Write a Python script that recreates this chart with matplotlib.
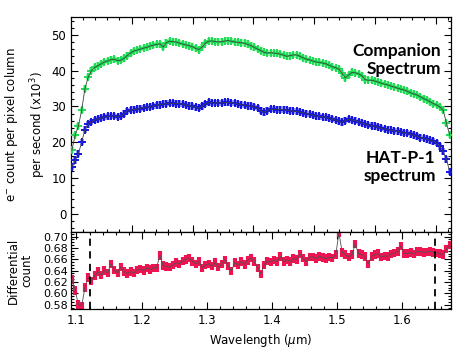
import numpy as np
import matplotlib
matplotlib.use("Agg")
import matplotlib.pyplot as plt
from matplotlib.ticker import MultipleLocator

# wavelength bins (micron), shared by the three series
wavelength = np.round(np.arange(1.093, 1.6731, 0.005), 3)

# companion star spectrum (e- per pixel column per second, x10^3)
companion = [
    17.8, 22.0, 24.5, 29.0, 35.0, 38.2, 40.0, 40.9, 41.4, 41.9,
    42.4, 42.7, 43.1, 43.2, 42.8, 42.9, 43.4, 44.2, 44.9, 45.5,
    45.7, 46.0, 46.3, 46.5, 46.9, 47.1, 47.3, 47.5, 46.6, 47.8,
    48.2, 48.1, 48.0, 47.7, 47.4, 47.2, 47.0, 46.7, 46.2, 45.9,
    46.6, 47.7, 48.2, 48.3, 48.1, 48.0, 48.1, 48.3, 48.4, 48.2,
    48.0, 47.9, 47.8, 47.6, 47.3, 47.0, 46.5, 46.0, 45.6, 45.1,
    44.9, 45.0, 44.9, 44.8, 44.6, 44.3, 44.0, 44.2, 44.4, 44.4,
    44.0, 43.6, 43.2, 43.0, 42.7, 42.4, 42.3, 42.1, 41.9, 41.5,
    41.1, 40.8, 40.4, 39.2, 38.0, 38.8, 39.5, 39.4, 39.1, 38.6,
    37.5, 37.3, 37.3, 37.1, 36.8, 36.5, 36.2, 36.0, 35.7, 35.4,
    35.1, 34.8, 34.6, 34.2, 33.8, 33.5, 33.2, 32.7, 32.2, 31.8,
    31.3, 30.8, 30.4, 29.8, 29.0, 25.3, 22.0,
]

# HAT-P-1 spectrum
hatp1 = [
    13.2, 14.9, 16.8, 20.0, 23.5, 25.0, 25.6, 26.2, 26.5, 26.7,
    27.0, 27.2, 27.3, 27.3, 27.1, 27.3, 28.0, 28.7, 29.0, 29.1,
    29.2, 29.4, 29.6, 29.8, 29.9, 30.1, 30.3, 30.5, 30.6, 30.8,
    30.9, 30.9, 30.8, 30.8, 30.6, 30.4, 30.2, 30.0, 29.7, 29.5,
    30.0, 30.7, 31.1, 31.0, 30.9, 31.0, 31.0, 31.1, 31.1, 31.0,
    30.9, 30.7, 30.5, 30.4, 30.2, 30.0, 29.9, 29.6, 28.8, 28.3,
    28.8, 29.2, 29.2, 29.1, 29.1, 29.1, 29.0, 28.8, 28.7, 28.6,
    28.4, 28.2, 28.0, 27.8, 27.6, 27.3, 27.2, 27.1, 26.9, 26.7,
    26.4, 26.2, 25.8, 25.5, 26.0, 26.4, 26.2, 26.0, 25.7, 25.4,
    25.1, 24.8, 24.6, 24.4, 24.2, 23.9, 23.7, 23.5, 23.4, 23.2,
    23.0, 22.8, 22.6, 22.5, 22.2, 21.9, 21.6, 21.3, 21.1, 20.8,
    20.5, 20.2, 19.8, 18.8, 17.4, 15.2, 11.8,
]

# differential count (HAT-P-1 / companion)
differential = [
    0.624, 0.605, 0.580, 0.578, 0.610, 0.628, 0.622, 0.631, 0.638, 0.632,
    0.640, 0.636, 0.652, 0.641, 0.636, 0.646, 0.638, 0.635, 0.638, 0.636,
    0.641, 0.643, 0.640, 0.645, 0.642, 0.645, 0.645, 0.667, 0.649, 0.647,
    0.646, 0.650, 0.654, 0.652, 0.657, 0.660, 0.662, 0.656, 0.652, 0.656,
    0.645, 0.650, 0.652, 0.648, 0.654, 0.646, 0.652, 0.659, 0.648, 0.639,
    0.654, 0.650, 0.656, 0.651, 0.658, 0.662, 0.656, 0.645, 0.634, 0.650,
    0.657, 0.655, 0.659, 0.656, 0.665, 0.656, 0.659, 0.656, 0.661, 0.660,
    0.669, 0.662, 0.656, 0.664, 0.664, 0.661, 0.665, 0.663, 0.661, 0.664,
    0.662, 0.668, 0.706, 0.672, 0.668, 0.664, 0.668, 0.687, 0.670, 0.668,
    0.665, 0.652, 0.665, 0.668, 0.670, 0.664, 0.666, 0.665, 0.669, 0.671,
    0.674, 0.683, 0.670, 0.670, 0.672, 0.669, 0.674, 0.674, 0.672, 0.673,
    0.674, 0.672, 0.671, 0.670, 0.668, 0.678, 0.685,
]

band_edges = [1.12, 1.65]

plt.rcParams["font.family"] = "DejaVu Sans"
plt.rcParams["mathtext.fontset"] = "dejavusans"

fig = plt.figure(figsize=(4.69, 3.59), dpi=100)
ax1 = fig.add_axes([0.1514, 0.3538, 0.8102, 0.599])
ax2 = fig.add_axes([0.1514, 0.1393, 0.8102, 0.2145])

# spectra
for vals, halo, col in [(companion, "#8ef5a6", "#1edc55"), (hatp1, "#8a8aff", "#1414e0")]:
    ax1.errorbar(wavelength, vals, yerr=0.9, fmt="none", ecolor=halo, elinewidth=2.8, zorder=2)
    ax1.plot(wavelength, vals, "+", color=col, ms=5.5, mew=1.4, zorder=3)
    ax1.plot(wavelength, vals, "-", color="#404040", lw=0.6, zorder=4)

ax1.text(0.975, 0.80, "Companion\nSpectrum", transform=ax1.transAxes, ha="right", va="center",
         fontsize=12.5, fontweight="bold", family="Lato", linespacing=1.15)
ax1.text(0.96, 0.30, "HAT-P-1\nspectrum", transform=ax1.transAxes, ha="right", va="center",
         fontsize=12.5, fontweight="bold", family="Lato", linespacing=1.15)

ax1.set_xlim(1.0916, 1.675)
ax1.set_ylim(-5.1, 55)
ax1.yaxis.set_major_locator(MultipleLocator(10))
ax1.yaxis.set_minor_locator(MultipleLocator(2))
ax1.xaxis.set_major_locator(MultipleLocator(0.0935, offset=0.0627))
ax1.xaxis.set_minor_locator(MultipleLocator(0.0187, offset=0.0066))
ax1.set_xticklabels([])
ax1.set_ylabel("e$^{-}$ count per pixel column\nper second (x10$^{3}$)", fontsize=8.5, linespacing=1.6)
ax1.yaxis.set_label_coords(-0.06, 0.5)

# differential
ax2.errorbar(wavelength, differential, yerr=0.0075, fmt="none", ecolor="#ee1452", elinewidth=3, zorder=2)
ax2.plot(wavelength, differential, "-", color="#505050", lw=0.6, zorder=3)
for b in band_edges:
    ax2.axvline(b, color="black", ls=(0, (4, 3)), lw=1.3, zorder=4)

ax2.set_xlim(1.0916, 1.675)
ax2.set_ylim(0.5724, 0.708)
ax2.yaxis.set_major_locator(MultipleLocator(0.02))
ax2.yaxis.set_minor_locator(MultipleLocator(0.005))
ax2.xaxis.set_major_locator(MultipleLocator(0.1))
ax2.xaxis.set_minor_locator(MultipleLocator(0.02))
ax2.yaxis.set_major_formatter(plt.FuncFormatter(lambda v, p: f"{v:.2f}"))
ax2.set_ylabel("Differential\ncount", fontsize=8.5, linespacing=1.1)
ax2.yaxis.set_label_coords(-0.098, 0.5)
ax2.set_xlabel(r"Wavelength ($\mu$m)", fontsize=8.5, labelpad=4)

for ax in (ax1, ax2):
    ax.tick_params(which="both", direction="in", top=True, right=True, width=0.8)
    ax.tick_params(which="major", length=5, labelsize=8.5)
    ax.tick_params(which="minor", length=2.5)
    for s in ax.spines.values():
        s.set_linewidth(0.9)
ax2.tick_params(axis="y", which="major", labelsize=8, pad=2)

fig.savefig("out.png", dpi=100)
